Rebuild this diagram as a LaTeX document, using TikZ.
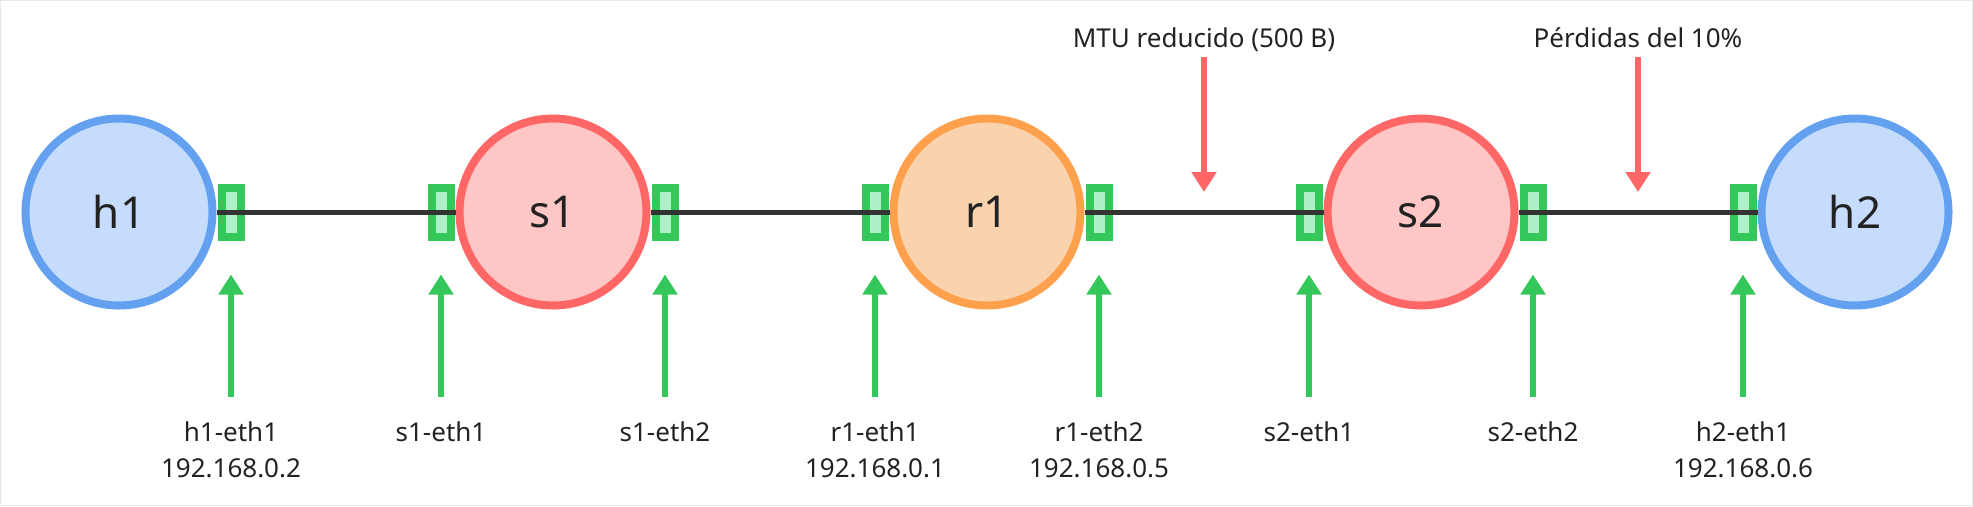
\documentclass[tikz,border=0pt]{standalone}
\usepackage{fontspec}
\setmainfont{Noto Sans}
\usetikzlibrary{positioning,arrows.meta}

\definecolor{hostfill}{HTML}{C6DCFC}
\definecolor{hostline}{HTML}{64A0F0}
\definecolor{switchfill}{HTML}{FFC6C6}
\definecolor{switchline}{HTML}{FF6666}
\definecolor{routerfill}{HTML}{F8D3AE}
\definecolor{routerline}{HTML}{FFA04D}
\definecolor{portline}{HTML}{34C759}
\definecolor{portfill}{HTML}{B0F0C8}
\definecolor{linkcol}{HTML}{333333}
\definecolor{textcol}{HTML}{222222}

\begin{document}
\begin{tikzpicture}[node distance=8.68cm,
    dev/.style={circle, line width=0.16cm, minimum size=3.74cm, inner sep=0pt, text=textcol, font=\fontsize{25}{30}\selectfont},
    host/.style={dev, draw=hostline, fill=hostfill},
    switch/.style={dev, draw=switchline, fill=switchfill},
    router/.style={dev, draw=routerline, fill=routerfill},
    port/.style={rectangle, draw=portline, fill=portfill, line width=0.16cm, minimum width=0.38cm, minimum height=0.98cm, inner sep=0pt, node distance=2.24cm},
    link/.style={draw=linkcol, line width=0.1cm},
    iface/.style={align=center, inner sep=0pt, text=textcol, font=\fontsize{14.8}{20.5}\selectfont},
    note/.style={inner sep=0pt, text depth=0.13cm, text=textcol, font=\fontsize{14.8}{20.5}\selectfont},
    tagarrow/.style={draw=portline, line width=0.12cm, -{Triangle[width=0.48cm,length=0.4cm]}, shorten <=0.5cm, shorten >=0.68cm},
    warnarrow/.style={draw=switchline, line width=0.12cm, -{Triangle[width=0.48cm,length=0.4cm]}, shorten <=0.06cm, shorten >=0.4cm}]
    \useasboundingbox (0,0) rectangle (39.46,-10.12);
    \draw [black!9, line width=0.02cm] (0.01,-0.01) rectangle (39.45,-10.11);

    % Devices
    \node [host] (h1) at (2.38,-4.24) {h1};
    \node [switch, right of=h1] (s1) {s1};
    \node [router, right of=s1] (r1) {r1};
    \node [switch, right of=r1] (s2) {s2};
    \node [host, right of=s2] (h2) {h2};

    % Ports
    \node [port, right of=h1] (h1eth1) {};
    \node [port, left of=s1] (s1eth1) {};
    \node [port, right of=s1] (s1eth2) {};
    \node [port, left of=r1] (r1eth1) {};
    \node [port, right of=r1] (r1eth2) {};
    \node [port, left of=s2] (s2eth1) {};
    \node [port, right of=s2] (s2eth2) {};
    \node [port, left of=h2] (h2eth1) {};

    % Links
    \draw [link] (h1) -- (s1);
    \draw [link] (s1) -- (r1);
    \draw [link] (r1) -- (s2);
    \draw [link] (s2) -- (h2);

    % Interface labels
    \node [iface, below=3.62cm of h1eth1] (h1lbl) {h1-eth1\\192.168.0.2};
    \node [iface, below=3.62cm of s1eth1] (s1lbl1) {s1-eth1};
    \node [iface, below=3.62cm of s1eth2] (s1lbl2) {s1-eth2};
    \node [iface, below=3.62cm of r1eth1] (r1lbl1) {r1-eth1\\192.168.0.1};
    \node [iface, below=3.62cm of r1eth2] (r1lbl2) {r1-eth2\\192.168.0.5};
    \node [iface, below=3.62cm of s2eth1] (s2lbl1) {s2-eth1};
    \node [iface, below=3.62cm of s2eth2] (s2lbl2) {s2-eth2};
    \node [iface, below=3.62cm of h2eth1] (h2lbl) {h2-eth1\\192.168.0.6};

    \draw [tagarrow] (h1lbl.north) -- (h1eth1.south);
    \draw [tagarrow] (s1lbl1.north) -- (s1eth1.south);
    \draw [tagarrow] (s1lbl2.north) -- (s1eth2.south);
    \draw [tagarrow] (r1lbl1.north) -- (r1eth1.south);
    \draw [tagarrow] (r1lbl2.north) -- (r1eth2.south);
    \draw [tagarrow] (s2lbl1.north) -- (s2eth1.south);
    \draw [tagarrow] (s2lbl2.north) -- (s2eth2.south);
    \draw [tagarrow] (h2lbl.north) -- (h2eth1.south);

    % Link conditions
    \coordinate [right of=r1eth2, node distance=2.1cm] (mtu);
    \coordinate [right of=s2eth2, node distance=2.1cm] (loss);
    \node [note, above=3.16cm of mtu] (mtulbl) {MTU reducido (500 B)};
    \node [note, above=3.16cm of loss] (losslbl) {Pérdidas del 10\%};
    \draw [warnarrow] (mtulbl) -- (mtu);
    \draw [warnarrow] (losslbl) -- (loss);
\end{tikzpicture}
\end{document}
